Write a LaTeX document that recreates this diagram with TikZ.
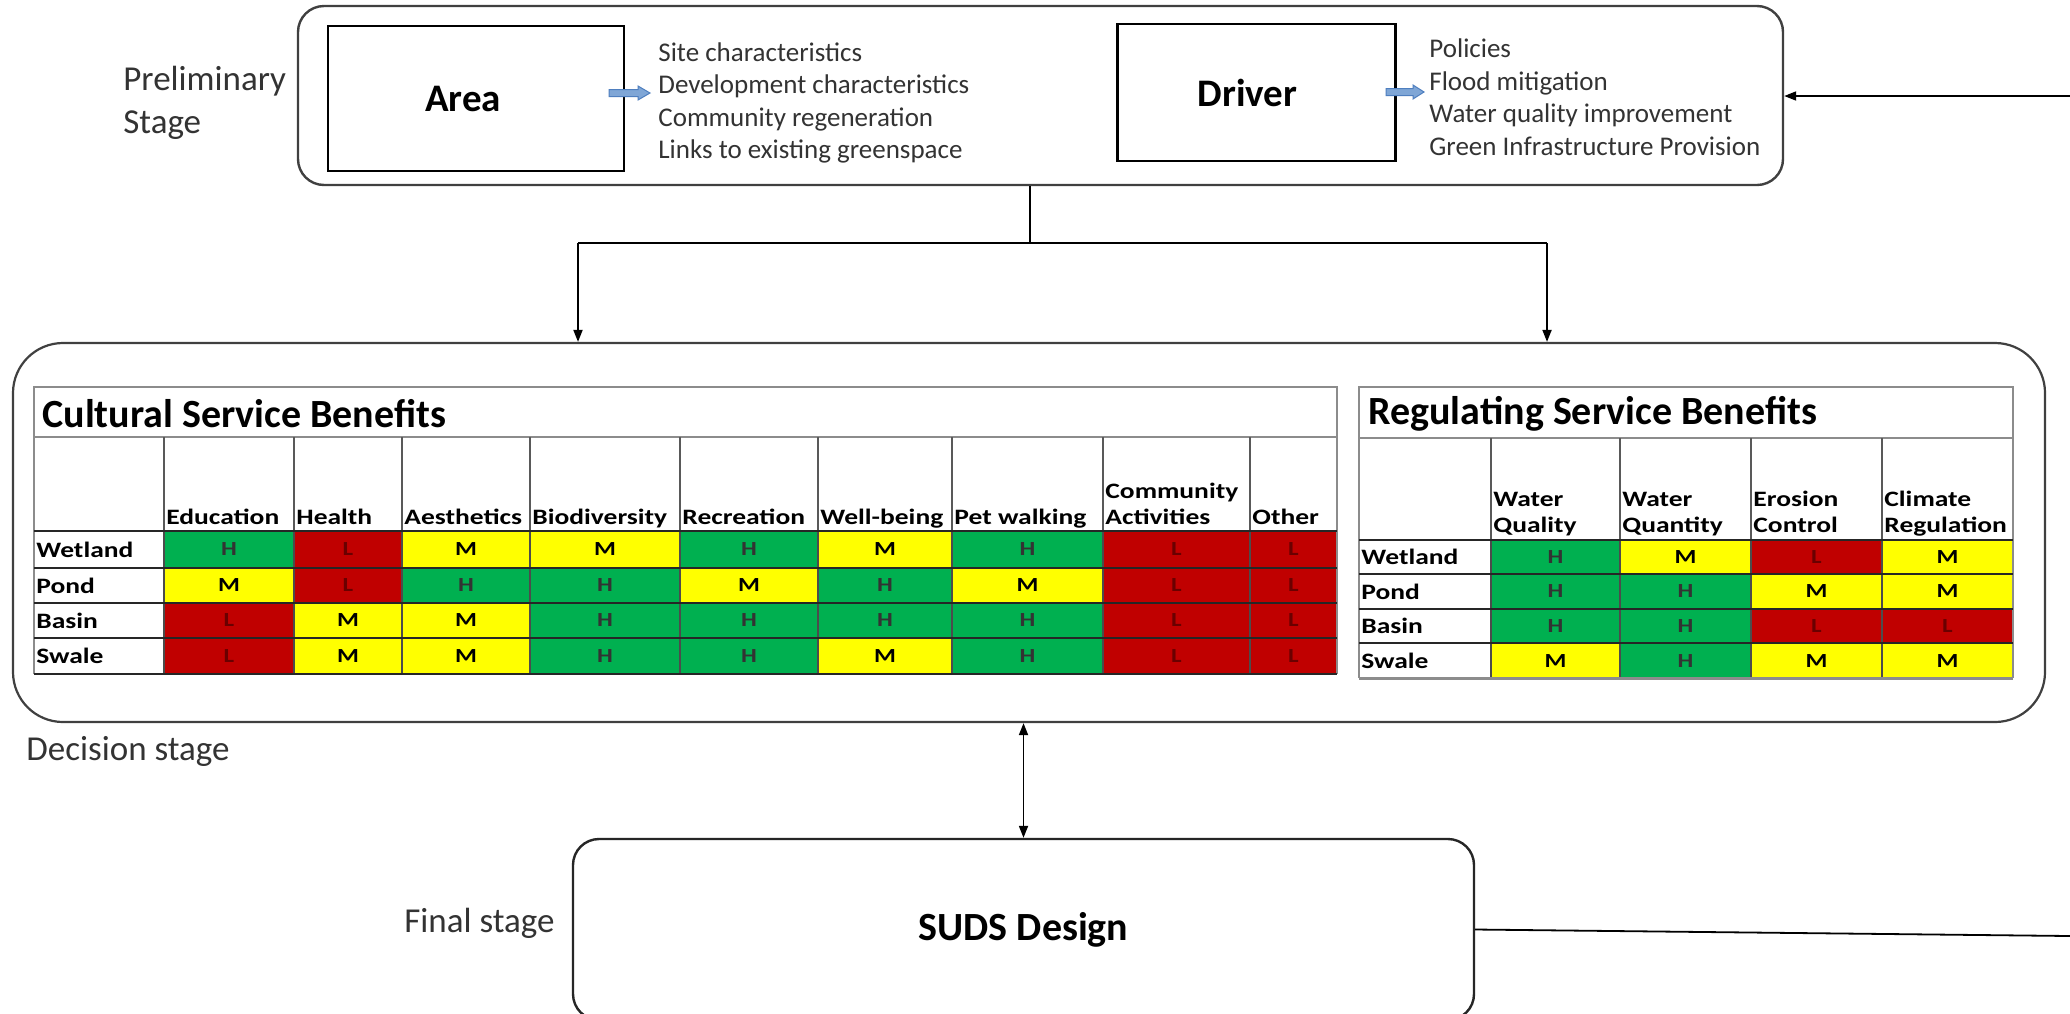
\documentclass[tikz,border=0pt]{standalone}
\usepackage{fontspec}
\setmainfont{Carlito}
\newfontfamily\tabfont[FakeStretch=1.25]{Carlito}
\usetikzlibrary{arrows.meta}
\definecolor{sgreen}{HTML}{00B050}
\definecolor{sred}{HTML}{C00000}
\definecolor{syellow}{HTML}{FFFF00}
\definecolor{sblue}{HTML}{7FA6D6}
\definecolor{sblueline}{HTML}{4F7FBF}
\definecolor{boxgray}{HTML}{404040}
\definecolor{tgray}{HTML}{8C8C8C}
\definecolor{darkL}{HTML}{6A0000}
\definecolor{txtgray}{HTML}{333333}
\tikzset{
  fillH/.style={fill=sgreen},
  fillM/.style={fill=syellow},
  fillL/.style={fill=sred},
  letterbase/.style={font={\tabfont\bfseries\fontsize{10}{12}\selectfont}, inner sep=0pt},
  letterH/.style={letterbase, text=black!80},
  letterM/.style={letterbase, text=black},
  letterL/.style={letterbase, text=darkL},
  stagelabel/.style={font={\fontsize{17.5}{21.5}\selectfont}, text=txtgray, align=left, inner sep=0pt},
  listtext/.style={font={\fontsize{13.5}{16.25}\selectfont}, text=txtgray, align=left, inner sep=0pt},
  stagebox/.style={draw=boxgray, line width=1.2pt, rounded corners=13pt},
  innerbox/.style={draw=black, line width=1.3pt, font={\bfseries\fontsize{19.5}{23}\selectfont}},
  bigbox/.style={draw=boxgray, line width=1.1pt, rounded corners=25pt},
  sudsbox/.style={draw=black!85, line width=1.2pt, rounded corners=13pt, font={\bfseries\fontsize{20}{24}\selectfont}},
  blockarrow/.style={fill=sblue, draw=sblueline, line width=0.5pt},
  conn/.style={draw=black, line width=0.9pt},
  arr/.style={-{Triangle[length=6pt,width=4.5pt]}},
  darr/.style={{Triangle[length=6pt,width=4.5pt]}-{Triangle[length=6pt,width=4.5pt]}},
  tabtitle/.style={font={\bfseries\fontsize{20}{24}\selectfont}, anchor=west, inner sep=0pt},
  tabhead/.style={font={\tabfont\bfseries\fontsize{11}{13}\selectfont}, anchor=south west, align=left, inner xsep=1pt, inner ysep=0pt},
  rowlab/.style={font={\tabfont\bfseries\fontsize{11}{13}\selectfont}, anchor=west, inner sep=0pt},
  titleline/.style={draw=tgray, line width=1pt},
  headline/.style={draw=black!65, line width=0.6pt},
  rowline/.style={draw=black!85, line width=1pt},
  colline/.style={draw=black!70, line width=0.6pt}
}
\newcommand\tabrow[4]{%
  \foreach \xa/\xb/\v in {#4}{%
    \fill[fill\v] (\xa,#2) rectangle (\xb,#3);
    \node[letter\v] (#1-\xa) at ({(\xa+\xb)/2},{(#2+#3)/2}) {\v};
  }}
\begin{document}
\begin{tikzpicture}[x=0.5pt,y=-0.5pt]
\useasboundingbox (0,0) rectangle (2070,1013);
\clip (0,0) rectangle (2070,1013);
\fill[white] (0,0) rectangle (2070,1013);

% ---------- preliminary stage ----------
\node[stagebox, minimum width=742.5pt, minimum height=89.5pt] (top) at (1040.5,95.5) {};
\node[innerbox, minimum width=148pt, minimum height=72.5pt] (area) at (476,98.5) {Area\hspace*{13pt}};
\node[innerbox, minimum width=139pt, minimum height=68.5pt] (driver) at (1256.5,92.5) {Driver\hspace*{9pt}};
\node[stagelabel, anchor=west] (prelim) at (123,103) {Preliminary\\Stage};

\coordinate (aarr) at (609,93);
\path[blockarrow, shift={(aarr)}] (0,-3.5) -- (29,-3.5) -- (29,-7) -- (41,0) -- (29,7) -- (29,3.5) -- (0,3.5) -- cycle;
\coordinate (darr) at (1386,92);
\path[blockarrow, shift={(darr)}] (0,-3.5) -- (27,-3.5) -- (27,-7) -- (38,0) -- (27,7) -- (27,3.5) -- (0,3.5) -- cycle;

\node[listtext, anchor=west] (alist) at (658,103) {Site characteristics\\Development characteristics\\Community regeneration\\Links to existing greenspace};
\node[listtext, anchor=west] (dlist) at (1429,97) {Policies\\Flood mitigation\\Water quality improvement\\Green Infrastructure Provision};

% ---------- decision stage box ----------
\node[bigbox, minimum width=1016pt, minimum height=189.5pt] (outer) at (1029,532.5) {};
\node[stagelabel, anchor=west] (declab) at (26,751) {Decision stage};

% ---------- connectors top ----------
\coordinate (split) at (1030,243);
\coordinate (jl) at (578,243);
\coordinate (jr) at (1547,243);
\draw[conn] (top.south -| split) -- (split);
\draw[conn] (jl) -- (jr);
\draw[conn, arr] (jl) -- (jl |- outer.north);
\draw[conn, arr] (jr) -- (jr |- outer.north);
\coordinate (rin) at (2070,96);
\draw[conn, arr] (rin) -- (rin -| top.east);

% ---------- cultural table ----------
\fill[white] (34,387) rectangle (1337,674);
\tabrow{cw}{531}{568}{164/294/H,294/402/L,402/530/M,530/680/M,680/818/H,818/952/M,952/1103/H,1103/1250/L,1250/1337/L}
\tabrow{cp}{568}{603}{164/294/M,294/402/L,402/530/H,530/680/H,680/818/M,818/952/H,952/1103/M,1103/1250/L,1250/1337/L}
\tabrow{cb}{603}{638}{164/294/L,294/402/M,402/530/M,530/680/H,680/818/H,818/952/H,952/1103/H,1103/1250/L,1250/1337/L}
\tabrow{cs}{638}{674}{164/294/L,294/402/M,402/530/M,530/680/H,680/818/H,818/952/M,952/1103/H,1103/1250/L,1250/1337/L}
\draw[titleline] (34,674) -- (34,387) -- (1337,387) -- (1337,674);
\draw[titleline] (34,437) -- (1337,437);
\foreach \xx in {164,294,402,530,680,818,952,1103,1250}{
  \draw[headline] (\xx,437) -- (\xx,531);
  \draw[colline] (\xx,531) -- (\xx,674);
}
\foreach \yy in {531,568,603,638,674}{
  \draw[rowline] (34,\yy) -- (1337,\yy);
}
\node[tabtitle] (ctitle) at (42,414) {Cultural Service Benefits};
\foreach \xa/\txt in {164/Education,294/Health,402/Aesthetics,530/Biodiversity,680/Recreation,818/Well-being,952/Pet walking,1103/{Community\\Activities},1250/Other}{
  \node[tabhead] (ch-\xa) at (\xa,533) {\txt\strut};
}
\foreach \yy/\lab in {549.5/Wetland,585.5/Pond,620.5/Basin,656/Swale}{
  \node[rowlab] (cl-\lab) at (36,\yy) {\lab};
}

% ---------- regulating table ----------
\fill[white] (1359,387) rectangle (2013,678);
\tabrow{rw}{540}{574}{1491/1620/H,1620/1751/M,1751/1882/L,1882/2013/M}
\tabrow{rp}{574}{609}{1491/1620/H,1620/1751/H,1751/1882/M,1882/2013/M}
\tabrow{rb}{609}{643}{1491/1620/H,1620/1751/H,1751/1882/L,1882/2013/L}
\tabrow{rs}{643}{678}{1491/1620/M,1620/1751/H,1751/1882/M,1882/2013/M}
\draw[titleline] (1359,678) -- (1359,387) -- (2013,387) -- (2013,678);
\draw[titleline] (1359,438) -- (2013,438);
\foreach \xx in {1491,1620,1751,1882}{
  \draw[headline] (\xx,438) -- (\xx,540);
  \draw[colline] (\xx,540) -- (\xx,678);
}
\foreach \yy in {540,574,609,643}{
  \draw[rowline] (1359,\yy) -- (2013,\yy);
}
\draw[draw=tgray, line width=1.5pt] (1359,678) -- (2013,678);
\node[tabtitle] (rtitle) at (1368,414) {Regulating Service Benefits};
\foreach \xa/\txt in {1491/{Water\\Quality},1620/{Water\\Quantity},1751/{Erosion\\Control},1882/{Climate\\Regulation}}{
  \node[tabhead] (rh-\xa) at (\xa,541) {\txt\strut};
}
\foreach \yy/\lab in {557/Wetland,591.5/Pond,626/Basin,660.5/Swale}{
  \node[rowlab] (rl-\lab) at (1361,\yy) {\lab};
}

% ---------- final stage ----------
\node[sudsbox, minimum width=450.5pt, minimum height=90.5pt] (suds) at (1023.5,929.5) {SUDS Design};
\node[stagelabel, anchor=west] (finlab) at (404,923) {Final stage};
\draw[conn, darr] (outer.south -| suds.north) -- (suds.north);
\coordinate (rout) at (2070,936);
\draw[conn] (suds.east) -- (rout);
\end{tikzpicture}
\end{document}
